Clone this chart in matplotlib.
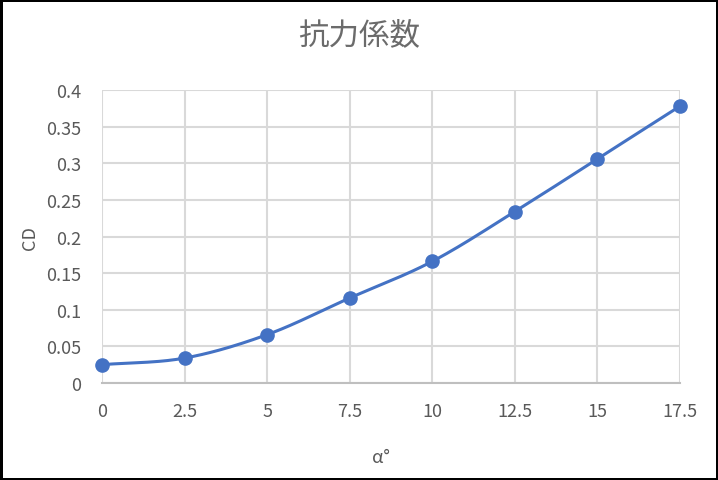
import numpy as np
from matplotlib import pyplot as plt

# data
alpha = [0, 2.5, 5, 7.5, 10, 12.5, 15, 17.5]
cd = [0.025, 0.034, 0.066, 0.116, 0.166, 0.234, 0.306, 0.378]
x_ticks = [0, 2.5, 5, 7.5, 10, 12.5, 15, 17.5]
x_tick_labels = ['0', '2.5', '5', '7.5', '10', '12.5', '15', '17.5']
y_ticks = [0, 0.05, 0.1, 0.15, 0.2, 0.25, 0.3, 0.35, 0.4]
y_tick_labels = ['0', '0.05', '0.1', '0.15', '0.2', '0.25', '0.3', '0.35', '0.4']
title = '抗力係数'
x_label = 'α°'
y_label = 'CD'

BLUE = '#4472C4'
GRAY_TEXT = '#595959'
GRID = '#d9d9d9'


def smooth_curve(x, y, steps=30):
    """ Catmull-Rom style smoothing, similar to Excel's smoothed lines. """
    x = np.asarray(x, float)
    y = np.asarray(y, float)
    px = np.concatenate([[2 * x[0] - x[1]], x, [2 * x[-1] - x[-2]]])
    py = np.concatenate([[2 * y[0] - y[1]], y, [2 * y[-1] - y[-2]]])
    out_x, out_y = [], []
    t = np.linspace(0, 1, steps)
    for i in range(1, len(px) - 2):
        for p, out in ((px, out_x), (py, out_y)):
            p0, p1, p2, p3 = p[i - 1], p[i], p[i + 1], p[i + 2]
            c1 = p1 + (p2 - p0) / 6
            c2 = p2 - (p3 - p1) / 6
            seg = ((1 - t) ** 3 * p1 + 3 * (1 - t) ** 2 * t * c1
                   + 3 * (1 - t) * t ** 2 * c2 + t ** 3 * p2)
            out.extend(seg if i == 1 else seg[1:])
    return np.array(out_x), np.array(out_y)


def main():
    plt.rcParams['font.family'] = ['Noto Sans CJK JP', 'DejaVu Sans']

    fig = plt.figure(figsize=(7.18, 4.81), dpi=100, edgecolor='black', linewidth=2.5)
    ax = fig.add_axes([0.142, 0.2017, 0.805, 0.609])

    sx, sy = smooth_curve(alpha, cd)
    ax.plot(sx, sy, color=BLUE, linewidth=2.2, zorder=3, solid_capstyle='round', clip_on=False)
    ax.plot(alpha, cd, 'o', color=BLUE, markersize=9.5, zorder=4, clip_on=False)

    ax.set_xlim(0, 17.5)
    ax.set_ylim(0, 0.4)
    ax.set_xticks(x_ticks, x_tick_labels)
    ax.set_yticks(y_ticks, y_tick_labels)
    ax.tick_params(length=0, labelsize=13, colors=GRAY_TEXT)
    ax.tick_params(axis='x', pad=14)
    ax.tick_params(axis='y', pad=15)
    ax.grid(True, color=GRID, linewidth=1.5)
    ax.set_axisbelow(True)
    for side in ('top', 'right', 'left'):
        ax.spines[side].set_visible(False)
    ax.spines['bottom'].set_color('#bfbfbf')
    ax.spines['bottom'].set_linewidth(1.5)

    fig.text(0.5, 0.927, title, ha='center', va='center', fontsize=22, color='#6b6b6b')
    fig.text(0.53, 0.048, x_label, ha='center', va='center', fontsize=13, color=GRAY_TEXT)
    fig.text(0.042, 0.505, y_label, ha='center', va='center', fontsize=13,
             color=GRAY_TEXT, rotation=90)

    fig.savefig('out.png', dpi=100)


if __name__ == '__main__':
    main()
